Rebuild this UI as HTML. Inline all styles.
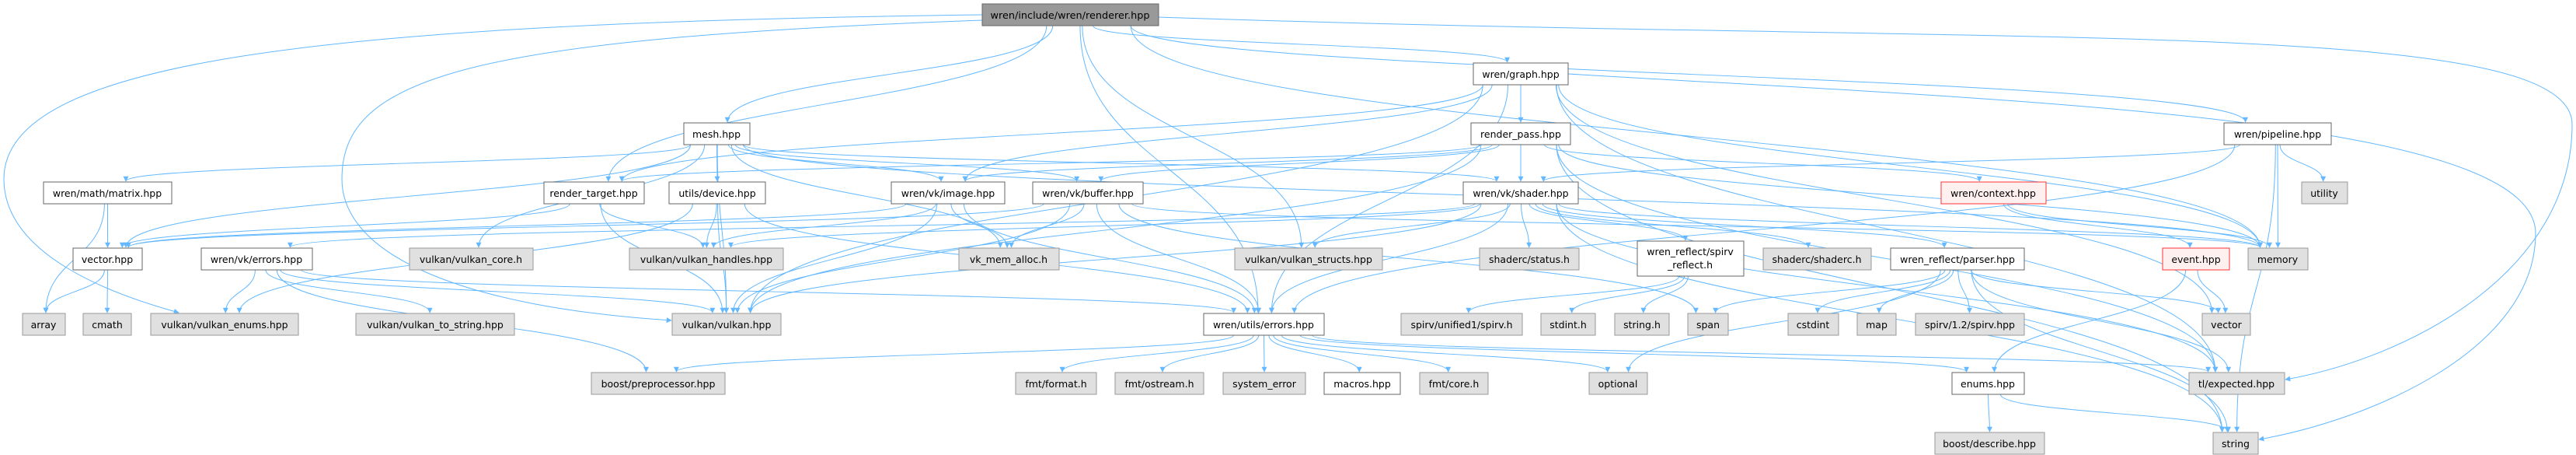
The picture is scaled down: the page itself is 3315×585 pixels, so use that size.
<!DOCTYPE html>
<html><head><meta charset="utf-8"><style>
html,body{margin:0;padding:0;background:#fff;width:3315px;height:585px;overflow:hidden}
svg{display:block}
text{font-family:"DejaVu Sans","Liberation Sans",sans-serif;font-size:12.5px;fill:#000}
</style></head><body>
<svg id="g" width="3315" height="585" viewBox="0 0 3315 585" xmlns="http://www.w3.org/2000/svg">
<defs><marker id="a" viewBox="0 0 10 10" refX="9" refY="5" markerWidth="7" markerHeight="7" orient="auto"><path d="M0,0L10,5L0,10z" fill="#63b8ff"/></marker></defs>
<g id="edges" fill="none" stroke="#63b8ff" stroke-width="1">
<path d="M1264,19 C400,30 5,80 5,230 C5,330 150,380 230,402" marker-end="url(#a)"/>
<path d="M1264,26 C600,50 440,100 440,230 C440,330 600,395 864,412" marker-end="url(#a)"/>
<path d="M1491,22 C2600,60 3310,20 3310,160 C3310,350 3100,460 2941,488" marker-end="url(#a)"/>
<path d="M2018,95 C2600,130 3263,150 3263,300 C3263,450 3050,540 2907,565" marker-end="url(#a)"/>
</g>
<g id="auto" fill="none" stroke="#63b8ff" stroke-width="1"></g>
<g id="nodes">
<rect x="1264" y="5" width="227" height="28" fill="#999" stroke="#666"/><text x="1377" y="24" text-anchor="middle" textLength="205" lengthAdjust="spacingAndGlyphs">wren/include/wren/renderer.hpp</text>
<rect x="1896" y="81" width="122" height="28" fill="#fff" stroke="#666"/><text x="1957" y="100" text-anchor="middle">wren/graph.hpp</text>
<rect x="880" y="158" width="85" height="28" fill="#fff" stroke="#666"/><text x="922" y="177" text-anchor="middle">mesh.hpp</text>
<rect x="1893" y="158" width="128" height="28" fill="#fff" stroke="#666"/><text x="1957" y="177" text-anchor="middle">render_pass.hpp</text>
<rect x="2862" y="158" width="138" height="28" fill="#fff" stroke="#666"/><text x="2931" y="177" text-anchor="middle">wren/pipeline.hpp</text>
<rect x="56" y="234" width="165" height="28" fill="#fff" stroke="#666"/><text x="138" y="253" text-anchor="middle">wren/math/matrix.hpp</text>
<rect x="700" y="234" width="129" height="28" fill="#fff" stroke="#666"/><text x="764" y="253" text-anchor="middle">render_target.hpp</text>
<rect x="861" y="234" width="124" height="28" fill="#fff" stroke="#666"/><text x="923" y="253" text-anchor="middle">utils/device.hpp</text>
<rect x="1147" y="234" width="146" height="28" fill="#fff" stroke="#666"/><text x="1220" y="253" text-anchor="middle">wren/vk/image.hpp</text>
<rect x="1329" y="234" width="142" height="28" fill="#fff" stroke="#666"/><text x="1400" y="253" text-anchor="middle">wren/vk/buffer.hpp</text>
<rect x="1883" y="234" width="148" height="28" fill="#fff" stroke="#666"/><text x="1957" y="253" text-anchor="middle">wren/vk/shader.hpp</text>
<rect x="2498" y="234" width="135" height="28" fill="#fff0f0" stroke="#f33"/><text x="2565" y="253" text-anchor="middle">wren/context.hpp</text>
<rect x="2962" y="234" width="59" height="28" fill="#e0e0e0" stroke="#999"/><text x="2991" y="253" text-anchor="middle">utility</text>
<rect x="94" y="319" width="89" height="28" fill="#fff" stroke="#666"/><text x="138" y="338" text-anchor="middle">vector.hpp</text>
<rect x="259" y="319" width="143" height="28" fill="#fff" stroke="#666"/><text x="330" y="338" text-anchor="middle">wren/vk/errors.hpp</text>
<rect x="527" y="319" width="159" height="28" fill="#e0e0e0" stroke="#999"/><text x="606" y="338" text-anchor="middle">vulkan/vulkan_core.h</text>
<rect x="810" y="319" width="198" height="28" fill="#e0e0e0" stroke="#999"/><text x="909" y="338" text-anchor="middle">vulkan/vulkan_handles.hpp</text>
<rect x="1234" y="319" width="129" height="28" fill="#e0e0e0" stroke="#999"/><text x="1298" y="338" text-anchor="middle">vk_mem_alloc.h</text>
<rect x="1589" y="319" width="190" height="28" fill="#e0e0e0" stroke="#999"/><text x="1684" y="338" text-anchor="middle">vulkan/vulkan_structs.hpp</text>
<rect x="1904" y="319" width="128" height="28" fill="#e0e0e0" stroke="#999"/><text x="1968" y="338" text-anchor="middle">shaderc/status.h</text>
<rect x="2107" y="310" width="137" height="45" fill="#fff" stroke="#666"/><text x="2175" y="328" text-anchor="middle">wren_reflect/spirv</text><text x="2175" y="345" text-anchor="middle">_reflect.h</text>
<rect x="2269" y="319" width="139" height="28" fill="#e0e0e0" stroke="#999"/><text x="2338" y="338" text-anchor="middle">shaderc/shaderc.h</text>
<rect x="2433" y="319" width="172" height="28" fill="#fff" stroke="#666"/><text x="2519" y="338" text-anchor="middle">wren_reflect/parser.hpp</text>
<rect x="2783" y="319" width="86" height="28" fill="#fff0f0" stroke="#f33"/><text x="2826" y="338" text-anchor="middle">event.hpp</text>
<rect x="2893" y="319" width="77" height="28" fill="#e0e0e0" stroke="#999"/><text x="2931" y="338" text-anchor="middle">memory</text>
<rect x="29" y="403" width="55" height="28" fill="#e0e0e0" stroke="#999"/><text x="56" y="422" text-anchor="middle">array</text>
<rect x="107" y="403" width="62" height="28" fill="#e0e0e0" stroke="#999"/><text x="138" y="422" text-anchor="middle">cmath</text>
<rect x="194" y="403" width="190" height="28" fill="#e0e0e0" stroke="#999"/><text x="289" y="422" text-anchor="middle">vulkan/vulkan_enums.hpp</text>
<rect x="458" y="403" width="204" height="28" fill="#e0e0e0" stroke="#999"/><text x="560" y="422" text-anchor="middle">vulkan/vulkan_to_string.hpp</text>
<rect x="865" y="403" width="140" height="28" fill="#e0e0e0" stroke="#999"/><text x="935" y="422" text-anchor="middle">vulkan/vulkan.hpp</text>
<rect x="1549" y="403" width="155" height="28" fill="#fff" stroke="#666"/><text x="1626" y="422" text-anchor="middle">wren/utils/errors.hpp</text>
<rect x="1803" y="403" width="156" height="28" fill="#e0e0e0" stroke="#999"/><text x="1881" y="422" text-anchor="middle">spirv/unified1/spirv.h</text>
<rect x="1983" y="403" width="70" height="28" fill="#e0e0e0" stroke="#999"/><text x="2018" y="422" text-anchor="middle">stdint.h</text>
<rect x="2078" y="403" width="70" height="28" fill="#e0e0e0" stroke="#999"/><text x="2113" y="422" text-anchor="middle">string.h</text>
<rect x="2172" y="403" width="52" height="28" fill="#e0e0e0" stroke="#999"/><text x="2198" y="422" text-anchor="middle">span</text>
<rect x="2301" y="403" width="65" height="28" fill="#e0e0e0" stroke="#999"/><text x="2333" y="422" text-anchor="middle">cstdint</text>
<rect x="2390" y="403" width="50" height="28" fill="#e0e0e0" stroke="#999"/><text x="2415" y="422" text-anchor="middle">map</text>
<rect x="2465" y="403" width="140" height="28" fill="#e0e0e0" stroke="#999"/><text x="2535" y="422" text-anchor="middle">spirv/1.2/spirv.hpp</text>
<rect x="2834" y="403" width="62" height="28" fill="#e0e0e0" stroke="#999"/><text x="2865" y="422" text-anchor="middle">vector</text>
<rect x="761" y="479" width="172" height="28" fill="#e0e0e0" stroke="#999"/><text x="847" y="498" text-anchor="middle">boost/preprocessor.hpp</text>
<rect x="1307" y="479" width="104" height="28" fill="#e0e0e0" stroke="#999"/><text x="1359" y="498" text-anchor="middle">fmt/format.h</text>
<rect x="1435" y="479" width="114" height="28" fill="#e0e0e0" stroke="#999"/><text x="1492" y="498" text-anchor="middle">fmt/ostream.h</text>
<rect x="1574" y="479" width="106" height="28" fill="#e0e0e0" stroke="#999"/><text x="1627" y="498" text-anchor="middle">system_error</text>
<rect x="1704" y="479" width="98" height="28" fill="#fff" stroke="#666"/><text x="1753" y="498" text-anchor="middle">macros.hpp</text>
<rect x="1827" y="479" width="88" height="28" fill="#e0e0e0" stroke="#999"/><text x="1871" y="498" text-anchor="middle">fmt/core.h</text>
<rect x="2045" y="479" width="75" height="28" fill="#e0e0e0" stroke="#999"/><text x="2082" y="498" text-anchor="middle">optional</text>
<rect x="2512" y="479" width="93" height="28" fill="#fff" stroke="#666"/><text x="2558" y="498" text-anchor="middle">enums.hpp</text>
<rect x="2817" y="479" width="123" height="28" fill="#e0e0e0" stroke="#999"/><text x="2878" y="498" text-anchor="middle">tl/expected.hpp</text>
<rect x="2490" y="556" width="141" height="28" fill="#e0e0e0" stroke="#999"/><text x="2560" y="575" text-anchor="middle">boost/describe.hpp</text>
<rect x="2848" y="556" width="58" height="28" fill="#e0e0e0" stroke="#999"/><text x="2877" y="575" text-anchor="middle">string</text>
</g>
</svg>
<script>
var N={
renderer:[1264,5,227,28],graph:[1896,81,122,28],mesh:[880,158,85,28],rpass:[1893,158,128,28],pipe:[2862,158,138,28],
matrix:[56,234,165,28],rt:[700,234,129,28],device:[861,234,124,28],image:[1147,234,146,28],buffer:[1329,234,142,28],shader:[1883,234,148,28],ctx:[2498,234,135,28],utility:[2962,234,59,28],
vhpp:[94,319,89,28],vkerr:[259,319,143,28],core:[527,319,159,28],handles:[810,319,198,28],vma:[1234,319,129,28],structs:[1589,319,190,28],status:[1904,319,128,28],sref:[2107,310,137,45],shaderc:[2269,319,139,28],parser:[2433,319,172,28],event:[2783,319,86,28],memory:[2893,319,77,28],
array:[29,403,55,28],cmath:[107,403,62,28],enumsv:[194,403,190,28],tostr:[458,403,204,28],vulkan:[865,403,140,28],uerr:[1549,403,155,28],spirvh:[1803,403,156,28],stdint:[1983,403,70,28],strh:[2078,403,70,28],span:[2172,403,52,28],cstdint:[2301,403,65,28],map:[2390,403,50,28],spirvhpp:[2465,403,140,28],vector:[2834,403,62,28],
bpp:[761,479,172,28],fmtf:[1307,479,104,28],fmto:[1435,479,114,28],syserr:[1574,479,106,28],macros:[1704,479,98,28],fmtc:[1827,479,88,28],optional:[2045,479,75,28],enums:[2512,479,93,28],expected:[2817,479,123,28],
bdesc:[2490,556,141,28],string:[2848,556,58,28]};
var E={
renderer:['graph','mesh','rt','structs','memory','pipe','uerr'],
graph:['rpass','image','vulkan','uerr','memory','vector','expected','rt'],
rpass:['shader','image','buffer','rt','ctx','memory','expected','string','vulkan'],
mesh:['matrix','vhpp','device','buffer','image','shader','vma','vulkan','core','memory'],
rt:['vhpp','handles','vulkan'],
device:['handles','vulkan','uerr','enumsv'],
image:['vma','vulkan','uerr','vhpp','handles'],
buffer:['vma','vulkan','uerr','span','vhpp','memory'],
shader:['structs','status','sref','shaderc','parser','vulkan','uerr','handles','vkerr','memory','expected','string'],
matrix:['array','vhpp'],vhpp:['array','cmath'],
vkerr:['enumsv','tostr','bpp','vulkan','uerr'],
sref:['spirvh','stdint','strh'],
parser:['span','cstdint','map','spirvhpp','vector','optional','string','expected'],
uerr:['bpp','fmtf','fmto','syserr','macros','fmtc','optional','expected','enums'],
enums:['bdesc','string'],event:['vector','enums'],ctx:['event','memory'],
pipe:['utility','memory','string','shader','uerr']};
var g=document.getElementById('auto'),s='';
for(var a in E){var A=N[a];E[a].forEach(function(b){var B=N[b];
var sx=A[0]+A[2]/2,sy=A[1]+A[3],tx=B[0]+B[2]/2,ty=B[1];
var dx=tx-sx;sx+=Math.max(-A[2]*0.4,Math.min(A[2]*0.4,dx*0.05));tx-=Math.max(-B[2]*0.3,Math.min(B[2]*0.3,dx*0.03));
var dy=(ty-sy)*0.5;
s+='<path d="M'+sx+','+sy+' C'+sx+','+(sy+dy)+' '+tx+','+(ty-dy)+' '+tx+','+(ty-1)+'" marker-end="url(#a)"/>';});}
g.innerHTML=s;
</script>
</body></html>
